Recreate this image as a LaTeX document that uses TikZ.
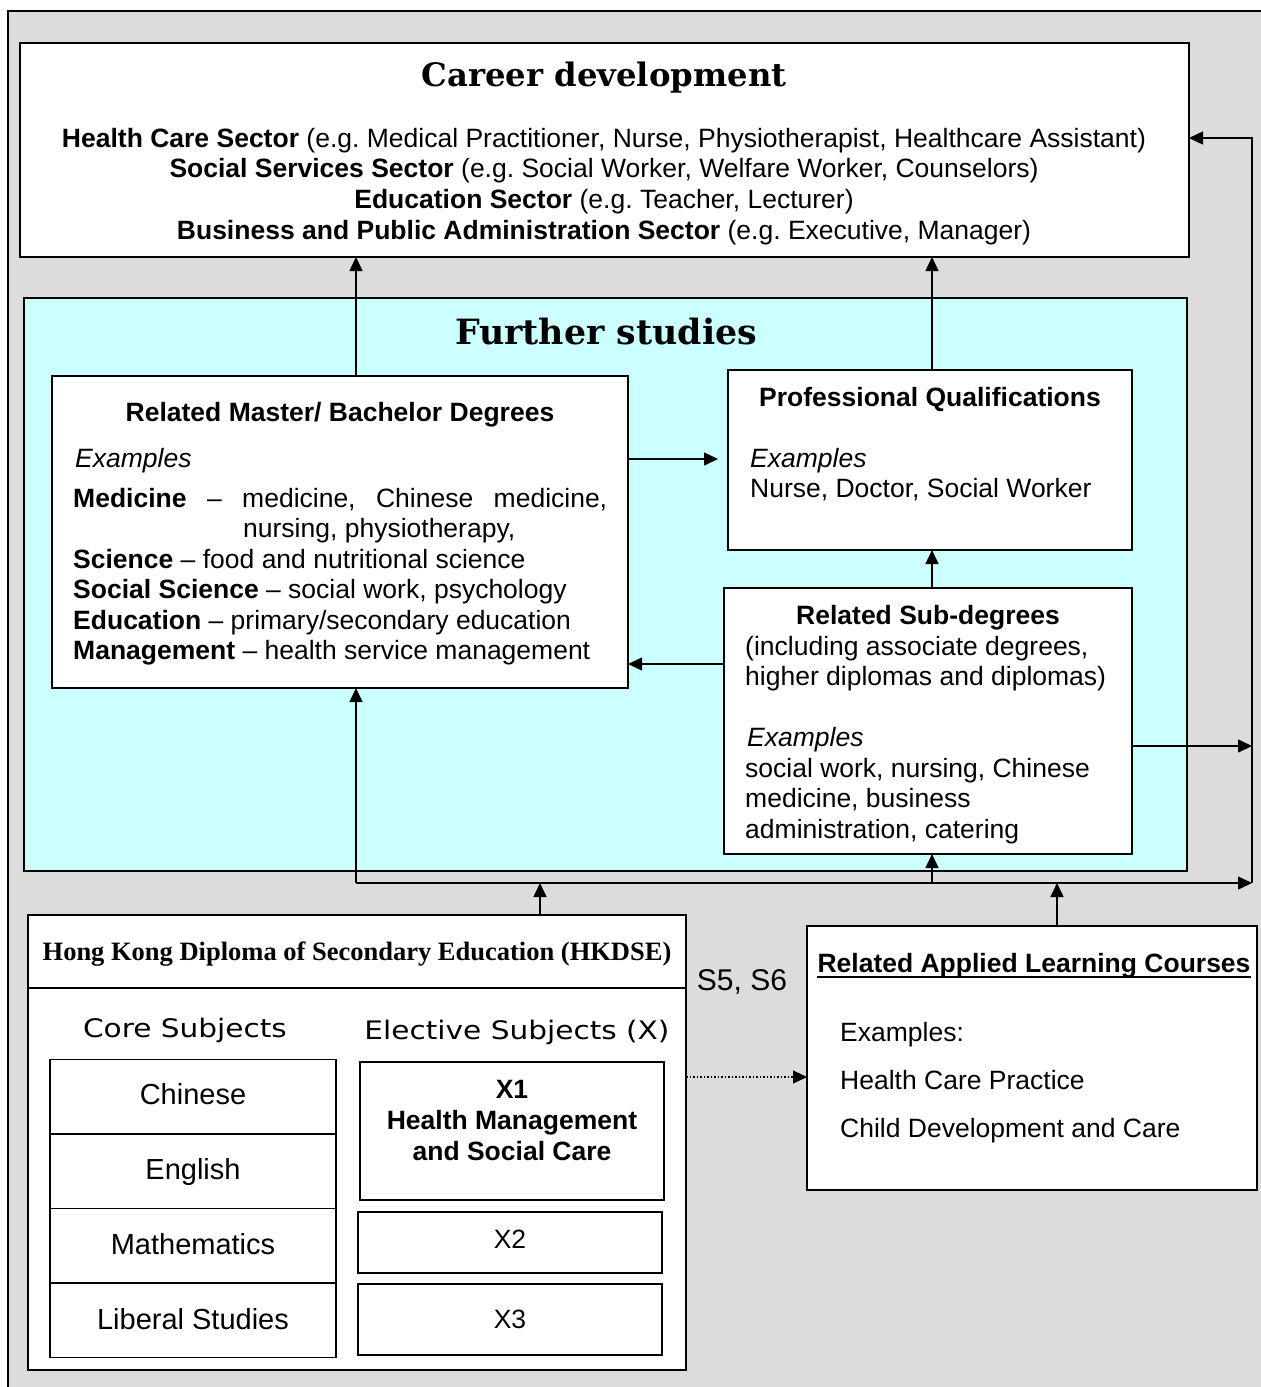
\documentclass[tikz,border=0pt]{standalone}
\usepackage{fontspec}
\setmainfont{Liberation Sans}
\newfontfamily\titleserif{DejaVu Serif}
\newfontfamily\hkserif{Liberation Serif}
\newfontfamily\widesans[FakeStretch=1.16]{DejaVu Sans}
\usetikzlibrary{arrows.meta}
\definecolor{panelgray}{RGB}{220,220,220}
\definecolor{studycyan}{RGB}{204,255,255}
\newcommand{\bodysize}{\fontsize{26.5}{30.7}\selectfont}
\frenchspacing

\begin{document}
\begin{tikzpicture}[x=1pt, y=-1pt,
        box/.style={draw, line width=1.5pt, fill=white, inner sep=0pt, outer sep=0pt},
        txt/.style={anchor=base west, inner sep=0pt, font=\bodysize},
        ctxt/.style={anchor=base, inner sep=0pt, font=\bodysize},
        arr/.style={line width=1.5pt, -{Triangle[length=14pt, width=13pt]}}]
    \useasboundingbox (0,0) rectangle (1261,1387);
    % background panel
    \filldraw[fill=panelgray, line width=1.5pt] (8,11) rectangle (1290,1410);

    % career development
    \node[box, minimum width=1169, minimum height=214] (career) at (604.5,150) {};
    \node[ctxt, font=\titleserif\bfseries\fontsize{32.3}{38}\selectfont] (careertitle) at (604,86.5) {Career development};
    \foreach \ln [count=\i] in {
            {\textbf{Health Care Sector} (e.g. Medical Practitioner, Nurse, Physiotherapist, Healthcare Assistant)},
            {\textbf{Social Services Sector} (e.g. Social Worker, Welfare Worker, Counselors)},
            {\textbf{Education Sector} (e.g. Teacher, Lecturer)},
            {\textbf{Business and Public Administration Sector} (e.g. Executive, Manager)}}
        \node[ctxt] (sector\i) at (604,{147+30.7*(\i-1)}) {\ln};

    % further studies
    \node[box, fill=studycyan, minimum width=1163, minimum height=573] (further) at (605.5,584.5) {};
    \node[ctxt, font=\titleserif\bfseries\fontsize{34.8}{42}\selectfont] (furthertitle) at (606,344) {Further studies};

    % degrees
    \node[box, minimum width=576, minimum height=312] (master) at (340,532) {};
    \node[ctxt, font=\bodysize\bfseries] (mastertitle) at (340,421) {Related Master/ Bachelor Degrees};
    \node[txt, font=\bodysize\itshape] (masterex) at (75,467) {Examples};
    \node[txt] (med) at (73,507) {\makebox[534pt][s]{\textbf{Medicine} -- medicine, Chinese medicine,}};
    \node[txt] (med2) at (243,537.5) {nursing, physiotherapy,};
    \foreach \ln [count=\i] in {
            {\textbf{Science} -- food and nutritional science},
            {\textbf{Social Science} -- social work, psychology},
            {\textbf{Education} -- primary/secondary education},
            {\textbf{Management} -- health service management}}
        \node[txt] (field\i) at (73,{568+30.6*(\i-1)}) {\ln};

    % professional qualifications
    \node[box, minimum width=404, minimum height=180] (prof) at (930,460) {};
    \node[ctxt, font=\bodysize\bfseries] (proftitle) at (930,406) {Professional Qualifications};
    \node[txt, font=\bodysize\itshape] (profex) at (750,467) {Examples};
    \node[txt] (proflist) at (750,497) {Nurse, Doctor, Social Worker};

    % sub-degrees
    \node[box, minimum width=408, minimum height=266] (sub) at (928,721) {};
    \node[ctxt, font=\bodysize\bfseries] (subtitle) at (928,624) {Related Sub-degrees};
    \node[txt] (sub1) at (745,655) {(including associate degrees,};
    \node[txt] (sub2) at (745,685.5) {higher diplomas and diplomas)};
    \node[txt, font=\bodysize\itshape] (subex) at (747,746) {Examples};
    \node[txt] (sub3) at (745,777) {social work, nursing, Chinese};
    \node[txt] (sub4) at (745,807.5) {medicine, business};
    \node[txt] (sub5) at (745,838) {administration, catering};

    % HKDSE
    \node[box, minimum width=658, minimum height=455] (hkdse) at (357,1142.5) {};
    \draw[line width=1.5pt] (hkdse.west |- 0,988) -- (hkdse.east |- 0,988);
    \node[ctxt, font=\hkserif\bfseries\fontsize{26.5}{30}\selectfont] (hktitle) at (357,960) {Hong Kong Diploma of Secondary Education (HKDSE)};
    \node[ctxt, font=\widesans\fontsize{25.5}{30}\selectfont] (corehead) at (185,1037) {Core Subjects};
    \node[ctxt, font=\widesans\fontsize{25.5}{30}\selectfont] (elechead) at (517,1039) {Elective Subjects (X)};
    \foreach \subj [count=\i] in {Chinese, English, Mathematics, Liberal Studies} {
        \node[box, minimum width=286, minimum height=74.5] (core\i) at (193,{1096.5+74.5*(\i-1)}) {};
        \node[ctxt, font=\fontsize{29}{33}\selectfont] (coretxt\i) at (193,{1104+75*(\i-1)}) {\subj};
    }
    \node[box, minimum width=304, minimum height=138] (x1) at (512,1131) {};
    \node[ctxt, font=\bodysize\bfseries] (x1a) at (512,1098) {X1};
    \node[ctxt, font=\bodysize\bfseries] (x1b) at (512,1129) {Health Management};
    \node[ctxt, font=\bodysize\bfseries] (x1c) at (512,1160) {and Social Care};
    \node[box, minimum width=304, minimum height=61] (x2) at (510,1242.5) {};
    \node[ctxt] (x2t) at (510,1248.5) {X2};
    \node[box, minimum width=304, minimum height=71] (x3) at (510,1319.5) {};
    \node[ctxt] (x3t) at (510,1328.5) {X3};
    \node[ctxt, font=\fontsize{30}{36}\selectfont] (years) at (742,990) {S5, S6};

    % applied learning
    \node[box, minimum width=450, minimum height=264] (applied) at (1032,1058) {};
    \node[ctxt, font=\bodysize\bfseries] (apptitle) at (1034,972) {Related Applied Learning Courses};
    \draw[line width=2.4pt] ([yshift=-5pt]apptitle.base west) -- ([yshift=-5pt]apptitle.base east);
    \node[txt] (appex) at (840,1041) {Examples:};
    \node[txt] (app1) at (840,1089) {Health Care Practice};
    \node[txt] (app2) at (840,1137) {Child Development and Care};

    % connectors
    \coordinate (busL) at (356,883);
    \coordinate (busR) at (1252,883);
    \coordinate (topR) at (1252,138);
    \draw[arr] (busL) -- (master.south -| busL);
    \draw[arr] (busL) -- (busR);
    \draw[arr] (busR) -- (topR) -- (career.east |- topR);
    \draw[arr] (master.north -| busL) -- (career.south -| busL);
    \draw[arr] (prof.north -| 932,0) -- (career.south -| 932,0);
    \draw[arr, shorten >=10pt] (master.east |- 0,459) -- (prof.west |- 0,459);
    \draw[arr] (sub.north -| 932,0) -- (prof.south -| 932,0);
    \draw[arr] (sub.west |- 0,664) -- (master.east |- 0,664);
    \draw[arr] (sub.east |- 0,746) -- (busR |- 0,746);
    \draw[arr] (busL -| 932,0) -- (sub.south -| 932,0);
    \draw[arr] (hkdse.north -| 540,0) -- (busL -| 540,0);
    \draw[arr] (applied.north -| 1057,0) -- (busL -| 1057,0);
    \draw[arr, dotted, line width=1.2pt] (hkdse.east |- 0,1077) -- (applied.west |- 0,1077);
\end{tikzpicture}
\end{document}
